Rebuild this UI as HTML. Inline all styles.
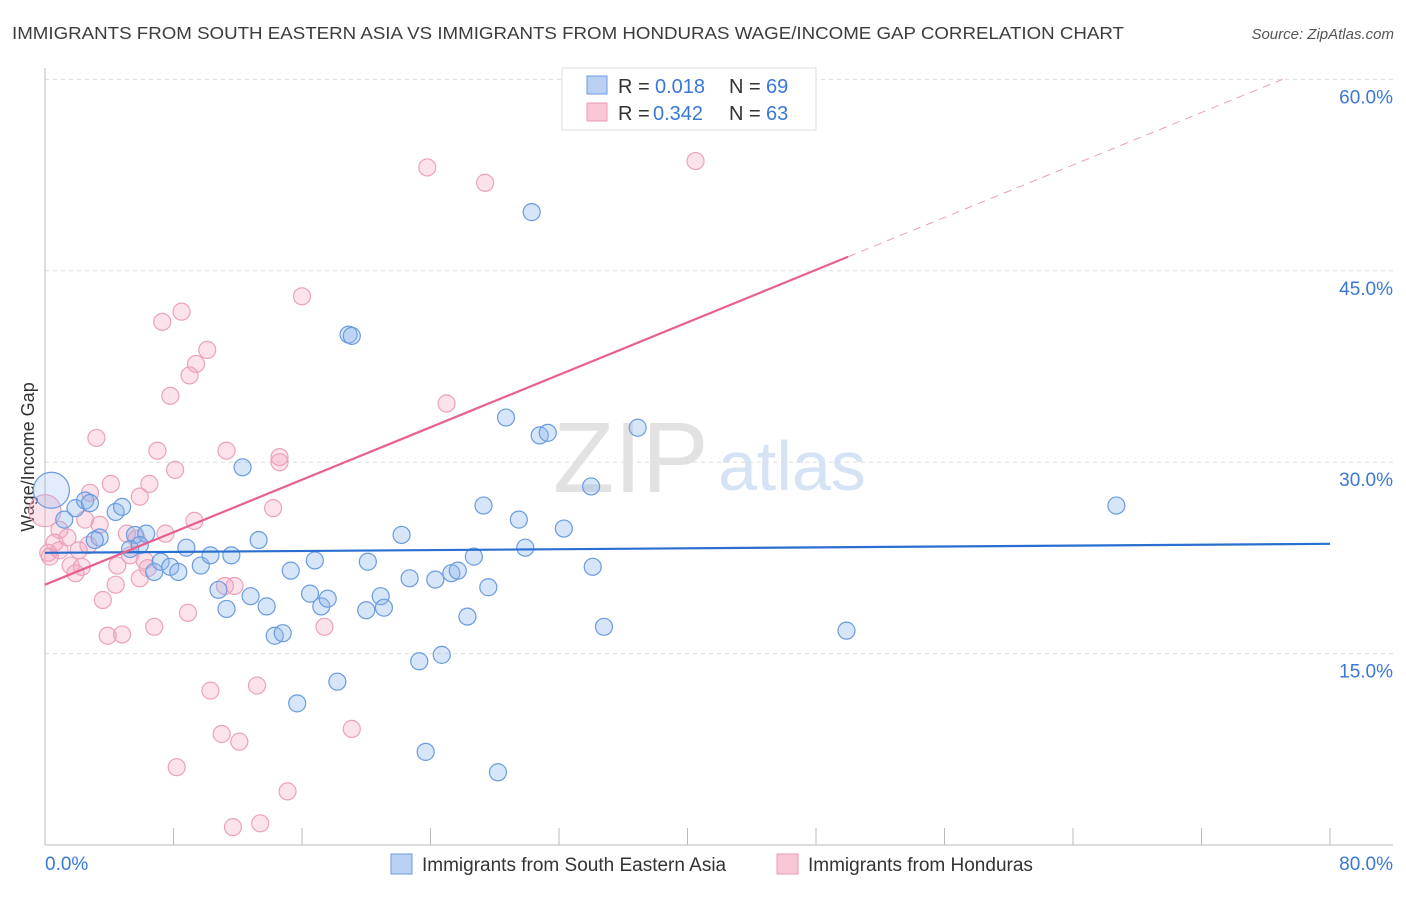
<!DOCTYPE html>
<html><head><meta charset="utf-8"><style>
body{margin:0;background:#fff;font-family:"Liberation Sans",sans-serif;}
svg text{font-family:"Liberation Sans",sans-serif;}
</style></head><body>
<svg id="chart" width="1406" height="892" xmlns="http://www.w3.org/2000/svg">
<text x="12" y="39" font-size="17.5" fill="#3c3c3c" textLength="1112" lengthAdjust="spacingAndGlyphs">IMMIGRANTS FROM SOUTH EASTERN ASIA VS IMMIGRANTS FROM HONDURAS WAGE/INCOME GAP CORRELATION CHART</text>
<text x="1394" y="39" font-size="15" fill="#555" font-style="italic" text-anchor="end">Source: ZipAtlas.com</text>
<text x="553" y="492" font-size="100" fill="#e2e2e2" font-family="Liberation Serif">ZIP</text>
<text x="718" y="490" font-size="70" fill="#d6e3f5">atlas</text>
<text transform="translate(34,457) rotate(-90)" font-size="18" fill="#333" text-anchor="middle">Wage/Income Gap</text>
<g id="grid"></g><g id="axes"></g><g id="pts"></g><g id="lines"></g>
<g>
<rect x="562" y="68" width="254" height="62" fill="#fff" stroke="#ddd"/>
<rect x="587" y="76" width="20" height="18" fill="#b9d0f3" stroke="#6a9be0"/>
<text x="618" y="93" font-size="20" fill="#333">R =</text><text x="655" y="93" font-size="20" fill="#3a78d8">0.018</text>
<text x="729" y="93" font-size="20" fill="#333">N =</text><text x="766" y="93" font-size="20" fill="#3a78d8">69</text>
<rect x="587" y="103" width="20" height="18" fill="#f8c6d5" stroke="#e89ab5"/>
<text x="618" y="120" font-size="20" fill="#333">R =</text><text x="653" y="120" font-size="20" fill="#3a78d8">0.342</text>
<text x="729" y="120" font-size="20" fill="#333">N =</text><text x="766" y="120" font-size="20" fill="#3a78d8">63</text>
</g>
<g>
<rect x="391" y="854" width="21" height="20" fill="#b9d0f3" stroke="#6a9be0"/>
<text x="422" y="871" font-size="19" fill="#333">Immigrants from South Eastern Asia</text>
<rect x="777" y="854" width="21" height="20" fill="#f8c6d5" stroke="#e89ab5"/>
<text x="808" y="871" font-size="19" fill="#333">Immigrants from Honduras</text>
</g>
</svg>
<script>
const blueX=[30.3,18.9,19.1,28.7,30.8,31.3,36.9,34.0,66.7,27.3,29.5,32.3,12.3,22.2,29.9,26.7,34.1,34.8,49.9,0.4,1.2,1.9,2.5,2.8,3.4,4.4,4.8,5.6,6.3,5.3,6.8,7.2,7.8,8.3,8.8,9.7,10.3,10.8,11.3,11.6,12.8,13.3,13.8,14.3,14.8,15.3,15.7,16.5,16.8,17.2,17.6,18.2,20.0,20.1,20.9,21.1,22.7,23.3,23.7,24.3,24.7,25.3,25.7,26.3,27.6,28.2,5.9,3.1];
const blueY=[49.6,40.0,39.9,33.5,32.1,32.3,32.7,28.1,26.6,26.6,25.5,24.8,29.6,24.3,23.3,22.6,21.8,17.1,16.8,27.8,25.5,26.4,27.0,26.8,24.1,26.1,26.5,24.3,24.4,23.2,21.4,22.2,21.8,21.4,23.3,21.9,22.7,20.0,18.5,22.7,19.5,23.9,18.7,16.4,16.6,21.5,11.1,19.7,22.3,18.7,19.3,12.8,18.4,22.2,19.5,18.6,20.9,14.4,7.3,20.8,14.9,21.3,21.5,17.9,20.2,5.7,23.5,23.9];
const pinkX=[23.8,27.4,40.5,16.0,8.5,7.3,10.1,9.4,9.0,7.8,25.0,3.2,7.0,11.3,14.6,14.6,6.5,4.1,5.9,2.8,14.2,9.3,2.5,3.4,5.1,7.5,5.7,1.4,0.6,0.2,0.9,2.1,5.3,6.2,4.5,1.6,2.3,6.4,1.9,5.9,4.4,11.2,3.6,8.9,17.4,6.8,3.9,4.8,10.3,13.2,11.0,12.1,19.1,8.2,15.1,11.7,13.4,0.0,0.9,2.7,0.3,11.8,8.1];
const pinkY=[53.1,51.9,53.6,43.0,41.8,41.0,38.8,37.7,36.8,35.2,34.6,31.9,30.9,30.9,30.4,30.0,28.3,28.3,27.3,27.6,26.4,25.4,25.5,25.1,24.4,24.4,24.0,24.1,23.7,22.9,23.1,23.1,22.7,22.3,21.9,21.9,21.8,21.7,21.3,20.9,20.4,20.3,19.2,18.2,17.1,17.1,16.4,16.5,12.1,12.5,8.7,8.1,9.1,6.1,4.2,1.4,1.7,26.2,24.7,23.5,22.6,20.3,29.4];
const bigBlue=[19]; const bigPink=[57];
const yTicks=[15,30,45,60];
const yTickLabels=["15.0%","30.0%","45.0%","60.0%"];
const xTicks=[0,8,16,24,32,40,48,56,64,72,80];
const xTickLabels=["0.0%","80.0%"];
const blueTrend=[22.9,0.0088]; // intercept, slope
const pinkTrend=[20.4,0.514];
const pinkSolidEnd=50;

const NS="http://www.w3.org/2000/svg";
const X=v=>45+v*(1330-45)/80;
const Y=v=>845-v*12.76;
function mk(tag,attrs,parent){const e=document.createElementNS(NS,tag);for(const k in attrs)e.setAttribute(k,attrs[k]);document.getElementById(parent).appendChild(e);return e;}

yTicks.forEach((t,i)=>{
  const g=mk('line',{x1:45,x2:1393,y1:Y(t),y2:Y(t),stroke:'#ddd','stroke-dasharray':'4,4'},'grid');
  
  
  const l=mk('text',{x:1393,y:Y(t)+24,'font-size':19,fill:'#3a78d8','text-anchor':'end'},'axes');
  l.textContent=yTickLabels[i];
  
  
});
const ya=mk('line',{x1:45,x2:45,y1:68,y2:845,stroke:'#bbb'},'axes');


const xa=mk('line',{x1:45,x2:1393,y1:845,y2:845,stroke:'#bbb'},'axes');


xTicks.forEach(t=>{
  const tk=mk('line',{x1:X(t),x2:X(t),y1:828,y2:845,stroke:'#bbb'},'axes');
  
  
});
const xl0=mk('text',{x:45,y:870,'font-size':19,fill:'#3a78d8'},'axes');xl0.textContent=xTickLabels[0];


const xl1=mk('text',{x:1393,y:870,'font-size':19,fill:'#3a78d8','text-anchor':'end'},'axes');xl1.textContent=xTickLabels[1];



pinkX.forEach((v,i)=>{
  const c=mk('circle',{cx:X(v),cy:Y(pinkY[i]),r:bigPink.includes(i)?16:8.5,fill:'rgba(244,160,188,0.3)',stroke:'#eba2bb','stroke-width':1.2},'pts');
  
  
});
blueX.forEach((v,i)=>{
  const big=bigBlue.includes(i);
  const c=mk('circle',{cx:X(v),cy:Y(blueY[i]),r:big?18:8.5,fill:big?'rgba(140,180,236,0.25)':'rgba(140,180,236,0.35)',stroke:'#6a9be0','stroke-width':1.2},'pts');
  
  
});
const bl=mk('line',{x1:X(0),y1:Y(blueTrend[0]),x2:X(80),y2:Y(blueTrend[0]+80*blueTrend[1]),stroke:'#2a6fd0','stroke-width':2.2},'lines');


const pl=mk('line',{x1:X(0),y1:Y(pinkTrend[0]),x2:X(pinkSolidEnd),y2:Y(pinkTrend[0]+pinkSolidEnd*pinkTrend[1]),stroke:'#e8608e','stroke-width':2.2},'lines');


const xEnd=(60-pinkTrend[0])/pinkTrend[1];
const pd=mk('line',{x1:X(pinkSolidEnd),y1:Y(pinkTrend[0]+pinkSolidEnd*pinkTrend[1]),x2:X(xEnd),y2:Y(60),stroke:'#eaa0b8','stroke-width':1,'stroke-dasharray':'8,6'},'lines');


</script>
</body></html>
